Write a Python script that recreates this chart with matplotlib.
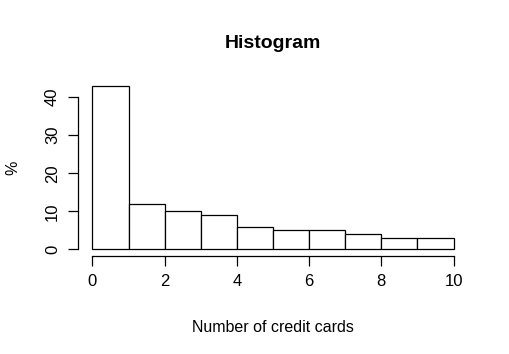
import numpy as np
import matplotlib
matplotlib.use('Agg')
import matplotlib.pyplot as plt

plt.rcParams['font.family'] = ['Liberation Sans', 'DejaVu Sans']

bin_edges = [0, 1, 2, 3, 4, 5, 6, 7, 8, 9, 10]
percent = [43, 12, 10, 9, 6, 5, 5, 4, 3, 3]
xticks = [0, 2, 4, 6, 8, 10]
yticks = [0, 10, 20, 30, 40]

fig = plt.figure(figsize=(5.09, 3.54), dpi=100)
ax = fig.add_axes([78 / 509, 1 - 256 / 354, 390 / 509, 177 / 354])

lefts = np.array(bin_edges[:-1])
widths = np.diff(bin_edges)
ax.bar(lefts, percent, width=widths, align='edge', facecolor='white',
       edgecolor='black', linewidth=0.9)

ax.set_xlim(-0.4, 10.4)
ax.set_ylim(-0.04 * 43, 43 * 1.04)
ax.spines['top'].set_visible(False)
ax.spines['right'].set_visible(False)
ax.spines['left'].set_bounds(0, 40)
ax.spines['bottom'].set_bounds(0, 10)
ax.spines['left'].set_linewidth(0.9)
ax.spines['bottom'].set_linewidth(0.9)
ax.set_xticks(xticks)
ax.set_yticks(yticks)
ax.tick_params(direction='out', length=7, width=0.9, labelsize=12, pad=6)
plt.setp(ax.get_yticklabels(), rotation=90, va='center')

ax.set_title('Histogram', fontsize=14, fontweight='bold', pad=22)
ax.set_xlabel('Number of credit cards', fontsize=11.5, labelpad=22)
ax.set_ylabel('%', fontsize=11.5, labelpad=18)

fig.savefig('out.png', dpi=100)
